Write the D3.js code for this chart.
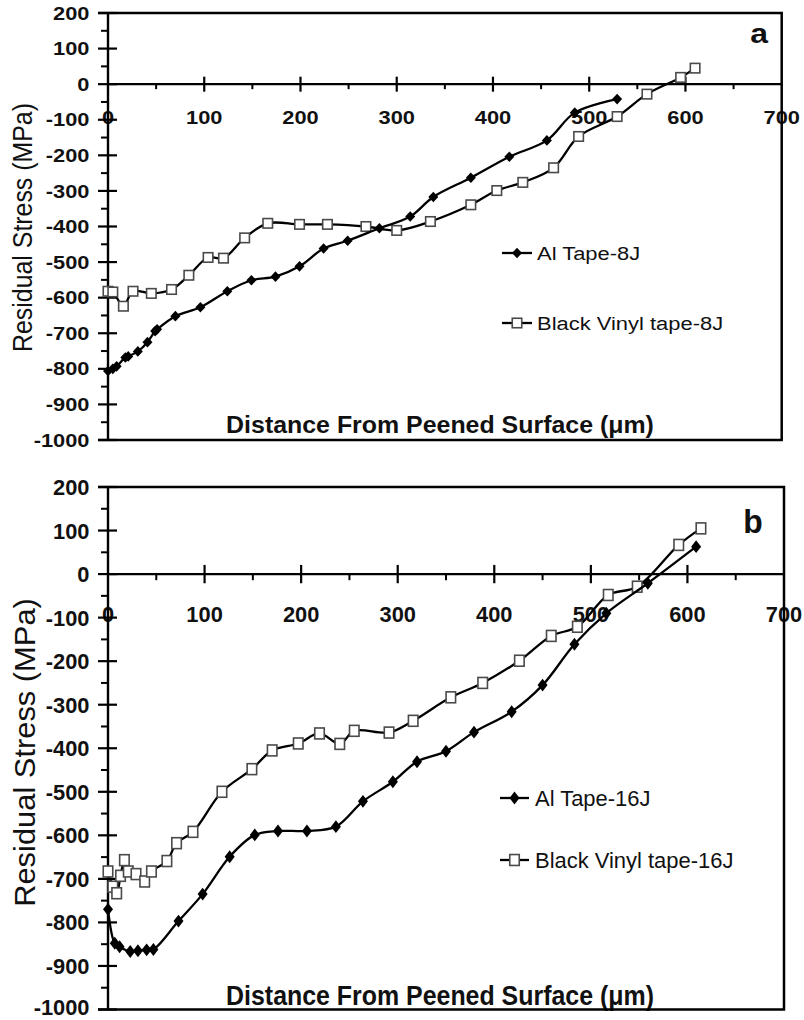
<!DOCTYPE html>
<html><head><meta charset="utf-8">
<script src="https://cdn.jsdelivr.net/npm/d3@7"></script>
<style>body{margin:0;background:#fff}</style>
</head><body>
<svg id="c" width="804" height="1020"></svg>
<script>
// ---------- DATA ----------
const xTickValues = [0, 100, 200, 300, 400, 500, 600, 700];
const yTickValues = [200, 100, 0, -100, -200, -300, -400, -500, -600, -700, -800, -900, -1000];
const xTitle = "Distance From Peened Surface (\u03bcm)";
const yTitle = "Residual Stress (MPa)";

const seriesNamesA = ["Al Tape-8J", "Black Vinyl tape-8J"];
const seriesNamesB = ["Al Tape-16J", "Black Vinyl tape-16J"];

const al8J = [[0,-806],[5,-800],[9,-793],[18,-768],[21,-765],[31,-751],[41,-725],[49,-694],[51,-689],
  [70,-652],[96,-627],[124,-582],[149,-551],[174,-541],[199,-512],[224,-462],[249,-440],[282,-405],
  [314,-372],[338,-317],[377,-263],[417,-204],[456,-158],[485,-80],[529,-42]];
const bv8J = [[0,-582],[5,-584],[16,-624],[26,-582],[45,-588],[66,-577],[84,-537],[104,-487],[120,-489],
  [142,-432],[166,-391],[199,-394],[228,-394],[268,-400],[300,-411],[335,-386],[377,-339],[404,-299],
  [431,-276],[463,-235],[489,-147],[529,-91],[560,-28],[595,19],[610,45]];
const al16J = [[0,-770],[7,-848],[12,-856],[23,-867],[31,-865],[40,-863],[47,-862],[73,-797],[98,-735],
  [126,-649],[152,-599],[176,-590],[206,-590],[236,-580],[264,-522],[295,-477],[320,-431],[350,-407],
  [379,-363],[418,-316],[450,-255],[483,-161],[516,-90],[559,-21],[609,63]];
const bv16J = [[0,-683],[5,-718],[9,-733],[13,-693],[17,-657],[21,-683],[29,-689],[38,-706],[45,-683],
  [61,-659],[71,-618],[88,-592],[118,-500],[149,-448],[170,-405],[197,-389],[219,-366],[240,-390],
  [255,-360],[291,-364],[316,-337],[355,-283],[388,-250],[426,-199],[459,-142],[486,-121],[518,-48],
  [548,-29],[591,67],[614,105]];

// ---------- LAYOUT ----------
const svg = d3.select("#c");
const FONT = "'Liberation Sans', Arial, Helvetica, sans-serif";
const SX = 1.18;

const panels = [
  { letter: "a", names: seriesNamesA, al: al8J, bv: bv8J,
    x0: 108, x1: 781.7, yTop: 13, yBot: 440, sy: 1,
    legendY: [253, 323], legendX: [502, 532, 537],
    titleY: 433, yTitleX: 31.5, yTitleY: 227.5, yTitleScale: [1, 1.12],
    letterPos: [759, 43] },
  { letter: "b", names: seriesNamesB, al: al16J, bv: bv16J,
    x0: 108, x1: 784, yTop: 487, yBot: 1009.5, sy: 1.22,
    legendY: [798, 860], legendX: [500, 529, 535],
    titleY: 1005, yTitleX: 35, yTitleY: 752.5, yTitleScale: [1.24, 1.22],
    letterPos: [753, 533] }
];

function txt(g, str, x, y, o) {
  return g.append("text")
    .attr("transform", `translate(${x},${y})` + (o.rotate ? ` rotate(${o.rotate})` : "") + ` scale(${o.sx},${o.sy})`)
    .attr("text-anchor", o.anchor || "start")
    .attr("font-family", FONT)
    .attr("font-size", o.size)
    .attr("font-weight", o.weight || "normal")
    .attr("fill", "#111")
    .text(str);
}

function diamond(w, h) { return `M0,${-h}L${w},0L0,${h}L${-w},0Z`; }

panels.forEach(p => {
  const g = svg.append("g");
  const x = d3.scaleLinear().domain([0, 700]).range([p.x0, p.x1]);
  const y = d3.scaleLinear().domain([-1000, 200]).range([p.yBot, p.yTop]);
  const sy = p.sy;
  const y0 = y(0);

  // y tick labels
  yTickValues.forEach(v => {
    const off = (v === -1000 && sy > 1) ? 4.4 : 6.6;
    txt(g, String(v), 89.5, y(v) + off * sy, { size: 18.5, weight: "bold", anchor: "end", sx: SX, sy: sy });
  });
  // x tick labels
  xTickValues.forEach(v => {
    txt(g, String(v), x(v), y0 + 39.5 * sy, { size: 18.5, weight: "bold", anchor: "middle", sx: SX, sy: sy });
  });

  // y axis line & ticks
  g.append("line").attr("x1", p.x0).attr("x2", p.x0).attr("y1", p.yTop).attr("y2", p.yBot)
    .attr("stroke", "#000").attr("stroke-width", 2.4);
  yTickValues.forEach(v => {
    g.append("line").attr("x1", p.x0 - 10).attr("x2", p.x0 + 9).attr("y1", y(v)).attr("y2", y(v))
      .attr("stroke", "#000").attr("stroke-width", 2.2);
  });
  d3.range(-950, 200, 100).forEach(v => {
    g.append("line").attr("x1", p.x0 - 7).attr("x2", p.x0).attr("y1", y(v)).attr("y2", y(v))
      .attr("stroke", "#000").attr("stroke-width", 2);
  });
  // x axis at zero
  g.append("line").attr("x1", p.x0).attr("x2", p.x1).attr("y1", y0).attr("y2", y0)
    .attr("stroke", "#000").attr("stroke-width", 2.4);
  xTickValues.filter(v => v > 0 && v < 700).forEach(v => {
    g.append("line").attr("x1", x(v)).attr("x2", x(v)).attr("y1", y0 - 7.5 * sy).attr("y2", y0 + 7.5 * sy)
      .attr("stroke", "#000").attr("stroke-width", 2.2);
  });
  d3.range(50, 700, 100).forEach(v => {
    g.append("line").attr("x1", x(v)).attr("x2", x(v)).attr("y1", y0).attr("y2", y0 + 5 * sy)
      .attr("stroke", "#000").attr("stroke-width", 2);
  });

  // axis titles
  txt(g, xTitle, 440, p.titleY, { size: 23.3, weight: "bold", anchor: "middle", sx: 1.07, sy: sy });
  txt(g, yTitle, p.yTitleX, p.yTitleY, { size: 24.9, anchor: "middle", rotate: -90,
    sx: p.yTitleScale[0], sy: p.yTitleScale[1] });

  // series
  const line = d3.line().x(d => x(d[0])).y(d => y(d[1])).curve(d3.curveCatmullRom.alpha(0.5));
  const sqW = 9.5, sqH = 9.5 * (sy > 1 ? 1.15 : 1);
  g.append("path").datum(p.bv).attr("d", line).attr("fill", "none").attr("stroke", "#000").attr("stroke-width", 2.3);
  g.selectAll(null).data(p.bv).enter().append("rect")
    .attr("x", d => x(d[0]) - sqW / 2).attr("y", d => y(d[1]) - sqH / 2)
    .attr("width", sqW).attr("height", sqH)
    .attr("fill", "#fff").attr("stroke", "#4a4a4a").attr("stroke-width", 1.6);
  g.append("path").datum(p.al).attr("d", line).attr("fill", "none").attr("stroke", "#000").attr("stroke-width", 2.3);
  const dw = 5, dh = 5.3 * sy;
  g.selectAll(null).data(p.al).enter().append("path")
    .attr("transform", d => `translate(${x(d[0])},${y(d[1])})`)
    .attr("d", diamond(dw, dh)).attr("fill", "#000");

  // legend
  const [lx0, lx1, tx] = p.legendX;
  const lm = (lx0 + lx1) / 2;
  g.append("line").attr("x1", lx0).attr("x2", lx1).attr("y1", p.legendY[0]).attr("y2", p.legendY[0])
    .attr("stroke", "#000").attr("stroke-width", 2.3);
  g.append("path").attr("transform", `translate(${lm},${p.legendY[0]})`).attr("d", diamond(dw, dh)).attr("fill", "#000");
  txt(g, p.names[0], tx, p.legendY[0] + 6.7 * sy, { size: 18.6, sx: SX, sy: sy });
  g.append("line").attr("x1", lx0).attr("x2", lx1).attr("y1", p.legendY[1]).attr("y2", p.legendY[1])
    .attr("stroke", "#000").attr("stroke-width", 2.3);
  g.append("rect").attr("x", lm - sqW / 2).attr("y", p.legendY[1] - sqH / 2).attr("width", sqW).attr("height", sqH)
    .attr("fill", "#fff").attr("stroke", "#4a4a4a").attr("stroke-width", 1.6);
  txt(g, p.names[1], tx, p.legendY[1] + 6.7 * sy, { size: 18.6, sx: SX, sy: sy });

  // panel letter
  txt(g, p.letter, p.letterPos[0], p.letterPos[1], { size: 27, weight: "bold", anchor: "middle", sx: SX, sy: sy });

  // frame (top, right, bottom)
  g.append("path").attr("d", `M${p.x0 - 10},${p.yTop}H${p.x1}V${p.yBot}H${p.x0 - 10}`)
    .attr("fill", "none").attr("stroke", "#000").attr("stroke-width", 2.5);
});
</script>
</body></html>
